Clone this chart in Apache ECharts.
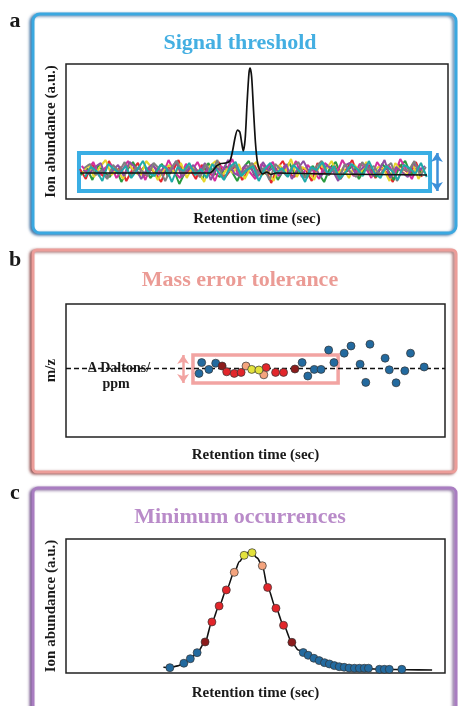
<!DOCTYPE html>
<html>
<head>
<meta charset="utf-8">
<script src="https://cdn.jsdelivr.net/npm/echarts/dist/echarts.min.js"></script>
<style>
  html, body { margin: 0; padding: 0; background: #ffffff; }
  #chart { width: 458px; height: 706px; }
</style>
</head>
<body>
<div id="chart"></div>
<script>
// ---- Panel a: background noise traces (one array per trace, scan by scan) ----
const noiseRed     = [ 4,-6, 9, 2,-3,12,-1, 6,-8, 3,  10,-4, 5, 0,-9, 7, 2,13,-2, 4,  -6, 8, 1,-3,11,-5, 3, 7,-7, 2,   9,-2, 5,-10,4,12, 0,-4, 6, 3,  -8,10, 1,-2, 7,-6, 4,13,-3, 2,   8,-5, 6, 0,-9, 9, 3,-1,11,-4];
const noiseGreen   = [-2, 5,-7, 8, 1,-4, 6,-9, 3,11,  -1, 7,-5, 2, 9,-3, 4,-11,1, 6,   3,-6,10, 0,-4, 7, 2,-8, 5,12,  -3, 6,-1, 8,-7, 3,10,-2, 4,-5,   7, 0,-9, 5,11,-3, 2, 8,-6, 4,   1,-4, 9, 3,-7, 6,12,-2, 5, 0];
const noiseMagenta = [ 7, 1,11,-3, 5, 9,-5, 3,12, 0,   6,-7, 8, 4,-2,13, 1,-5, 9, 2,  11,-1, 5,-8, 7, 3,14,-2, 6, 1,  -6, 9, 4,11,-3, 7, 0,12,-4, 8,   2,-6,10, 5,-1,13, 3,-3, 9, 6,  -5,11, 2, 8,-2,14, 4,-6, 7, 1];
const noiseYellow  = [ 0, 8,-4, 6,13,-2, 4,-6, 9, 1,  -3,12, 5,-7, 3, 8,-1,10,-5, 6,   2,-9, 7,12,-3, 4, 0, 9,-6, 5,  11,-2, 3,-8, 8, 1,14,-4, 6, 2,  -7, 9, 3,12,-1, 5,-5, 8, 0,11,  -3, 6, 4,-8,10, 2,-2, 9,-6, 5];
const noisePurple  = [ 3,-1, 6,10,-5, 2, 8,-3,11, 5,  -6, 4, 9,-2, 7, 1,12,-4, 3, 8,  -1,10,-7, 5, 2,13, 0,-3, 8, 4,  -5,11, 2, 6,-2, 9,-6, 4,12, 1,   5,-4, 8, 3,-8, 7,10,-1, 4, 9,  -3, 2,13,-5, 6, 1,-4,10, 3, 7];
const noiseGrey    = [ 5, 9,-2, 3,-6, 8, 1,11,-4, 6,   2,-3,10, 4,-8, 5,12,-1, 7, 3,  -4, 9, 0,13,-6, 2, 8,-2, 4,10,  -1, 5,-7, 9, 3,-3, 7,11,-5, 2,   6,12,-2, 4,-6, 9, 1,-4,11, 3,   7,-2, 5,10,-8, 4, 2,12,-3, 6];
const noiseTeal    = [-4, 6, 2,-8, 9, 4,-1, 7,-5, 3,  12, 0,-3, 8, 5,-9, 6, 2,10,-2,   4,-5, 9, 1,-7, 6,11,-3, 3, 7,  -8, 4,10,-1, 5,-4, 8, 2,-9, 6,   3,11,-2, 7,-6, 1, 9, 4,-3,12,   0,-5, 7, 2,-7, 8, 5,-1,10,-4];

// ---- Panel a: extracted ion chromatogram [retention time, abundance] ----
const xicTrace = [[3.7,0],[20,0],[37.6,0],[38.4,2],[39.4,7],[40.6,9.5],[41.8,10],[42.9,12],[43.6,22],[44.3,36],[44.9,43],[45.5,41],[46.0,30],[46.4,22],[46.9,34],[47.4,70],[47.9,100],[48.2,105],[48.6,96],[49.1,62],[49.6,30],[50.1,11],[50.7,3],[51.5,-1],[52.6,1],[53.6,-1.5],[55,0],[70,-1],[94.5,-2]];
// signal threshold window [time start, upper], [time end, lower]
const thresholdBox = [[3.4, 20], [95.3, -18]];
const thresholdArrowTime = 97.1;

// ---- Panel b: mass error of each scan [retention time, delta ppm] ----
const massBlue    = [[35.8,2.7],[35.1,-2.7],[37.7,-0.7],[39.5,2.4],[62.3,2.7],[63.8,-4.0],[65.5,-0.7],[67.3,-0.7],[69.3,9.0],[70.7,2.7],[73.4,7.4],[75.2,11.0],[77.6,1.9],[79.1,-7.2],[80.2,11.9],[84.2,4.9],[85.3,-0.9],[87.1,-7.4],[89.4,-1.4],[90.9,7.4],[94.5,0.5]];
const massDarkRed = [[41.2,1.0],[60.4,-0.5]];
const massRed     = [[42.4,-1.9],[44.4,-2.7],[46.2,-2.2],[52.8,0.2],[55.3,-2.2],[57.4,-2.2]];
const massPeach   = [[47.5,1.0],[52.2,-3.4]];
const massYellow  = [[49.0,-0.7],[50.9,-1.0]];
const toleranceBox = [[33.5, 6.5], [71.8, -7.5]];
const toleranceArrowTime = 30.9;

// ---- Panel c: chromatographic peak and its scans [retention time, abundance] ----
const peakCurve = [[25.7,3.1],[27.4,2.8],[29.5,4.3],[31.1,6.5],[32.8,10.3],[34.6,15.4],[36.7,24.4],[38.5,41.2],[40.4,54.6],[42.3,68.1],[44.4,82.9],[45.8,92.0],[47.0,97.2],[48.1,99.8],[49.1,99.4],[50.4,95.0],[51.8,88.4],[53.2,70.2],[55.4,52.7],[57.4,38.4],[59.6,24.1],[61.3,17.6],[62.6,15.5],[63.9,13.2],[66.8,8.7],[69.5,5.9],[72.1,3.6],[74.7,2.5],[78.7,2.0],[84.0,1.4],[90.0,1.0],[96.6,0.8]];
const scanBlue    = [[27.4,2.8],[31.1,6.5],[32.8,10.3],[34.6,15.4],[62.6,15.5],[63.9,13.2],[65.4,10.7],[66.8,8.7],[68.2,7.0],[69.5,5.9],[70.8,4.5],[72.1,3.6],[73.4,3.1],[74.7,2.5],[76.1,2.3],[77.4,2.3],[78.7,2.3],[79.8,2.3],[82.7,1.4],[84.0,1.4],[85.3,1.4],[88.6,1.4]];
const scanDarkRed = [[36.7,24.4],[59.6,24.1]];
const scanRed     = [[38.5,41.2],[40.4,54.6],[42.3,68.1],[53.2,70.2],[55.4,52.7],[57.4,38.4]];
const scanPeach   = [[44.4,82.9],[51.8,88.4]];
const scanYellow  = [[47.0,97.2],[49.1,99.4]];

const SERIF = '"Liberation Serif", "DejaVu Serif", serif';
const INK = '#1a1a1a';
const COLORS = {
  blue: '#236a9f', darkRed: '#8c1c1c', red: '#e2262b', peach: '#f4a47e', yellow: '#e3e23c'
};

const chart = echarts.init(document.getElementById('chart'), null, { renderer: 'canvas' });

const hiddenAxis = {
  axisLine: { show: false }, axisTick: { show: false },
  axisLabel: { show: false }, splitLine: { show: false }
};
const axisName = {
  nameLocation: 'middle',
  nameTextStyle: { fontFamily: SERIF, fontWeight: 'bold', fontSize: 15, color: INK }
};

function noiseSeries(values, color, shift) {
  return {
    type: 'line', xAxisIndex: 1, yAxisIndex: 1,
    data: values.map((v, i) => [i + shift, v]),
    showSymbol: false, symbol: 'none', silent: true,
    lineStyle: { color: color, width: 2 }, z: 2
  };
}
function dots(data, color, xi, yi) {
  return {
    type: 'scatter', xAxisIndex: xi, yAxisIndex: yi, data: data,
    symbolSize: 8, z: 6,
    itemStyle: { color: color, borderColor: '#333', borderWidth: 0.7, opacity: 1 }
  };
}
function doubleArrow(time, top, bottom, color) {
  return {
    silent: true, symbol: ['arrow', 'arrow'], symbolSize: [9, 9],
    lineStyle: { color: color, width: 2.5, type: 'solid' },
    label: { show: false },
    data: [[{ coord: [time, top] }, { coord: [time, bottom] }]]
  };
}

const noiseTraces = [
  [noiseRed, '#e5262c'], [noiseGreen, '#2a9a3e'], [noiseMagenta, '#d42f9e'],
  [noiseYellow, '#e6d62c'], [noisePurple, '#8d4ea3'], [noiseGrey, '#7f7f7f'], [noiseTeal, '#20a9a9']
];

const option = {
  backgroundColor: '#ffffff',
  animation: false,
  graphic: [
    // panel frames
    { type: 'rect', z: -10, shape: { x: 33, y: 14, width: 423, height: 219, r: 7 },
      style: { fill: '#ffffff', stroke: '#3aa8e0', lineWidth: 3, shadowBlur: 3, shadowOffsetX: -2, shadowOffsetY: 1, shadowColor: 'rgba(20,80,140,0.7)' } },
    { type: 'rect', z: -10, shape: { x: 33, y: 250, width: 423, height: 222, r: 4 },
      style: { fill: '#ffffff', stroke: '#ec9d99', lineWidth: 3, shadowBlur: 3, shadowOffsetX: -2, shadowOffsetY: 1, shadowColor: 'rgba(120,40,40,0.7)' } },
    { type: 'rect', z: -10, shape: { x: 33, y: 488, width: 423, height: 240, r: 5 },
      style: { fill: '#ffffff', stroke: '#a97dc1', lineWidth: 3, shadowBlur: 3, shadowOffsetX: -2, shadowOffsetY: 1, shadowColor: 'rgba(80,40,110,0.7)' } },
    // panel letters
    { type: 'text', style: { x: 15, y: 21, text: 'a', textAlign: 'center', textVerticalAlign: 'middle', font: 'bold 22px ' + SERIF, fill: INK } },
    { type: 'text', style: { x: 15, y: 260, text: 'b', textAlign: 'center', textVerticalAlign: 'middle', font: 'bold 22px ' + SERIF, fill: INK } },
    { type: 'text', style: { x: 15, y: 493, text: 'c', textAlign: 'center', textVerticalAlign: 'middle', font: 'bold 22px ' + SERIF, fill: INK } },
    // panel titles
    { type: 'text', style: { x: 240, y: 43, text: 'Signal threshold', textAlign: 'center', textVerticalAlign: 'middle', font: 'bold 22px ' + SERIF, fill: '#44afe2' } },
    { type: 'text', style: { x: 240, y: 280, text: 'Mass error tolerance', textAlign: 'center', textVerticalAlign: 'middle', font: 'bold 22px ' + SERIF, fill: '#eb9b95' } },
    { type: 'text', style: { x: 240, y: 517, text: 'Minimum occurrences', textAlign: 'center', textVerticalAlign: 'middle', font: 'bold 22px ' + SERIF, fill: '#b98bc9' } },
    // tolerance annotation on the dashed line
    { type: 'text', z: 10, style: { x: 119, y: 368, text: '\u0394 Daltons/', textAlign: 'center', textVerticalAlign: 'middle', font: 'bold 14px ' + SERIF, fill: INK } },
    { type: 'text', z: 10, style: { x: 116, y: 384, text: 'ppm', textAlign: 'center', textVerticalAlign: 'middle', font: 'bold 14px ' + SERIF, fill: INK } }
  ],
  grid: [
    { left: 66, top: 64, width: 382, height: 135, show: true, borderColor: '#222', borderWidth: 1.5, backgroundColor: 'transparent' },
    { left: 80, top: 64, width: 347, height: 135, show: false },
    { left: 66, top: 304, width: 379, height: 133, show: true, borderColor: '#222', borderWidth: 1.5, backgroundColor: 'transparent' },
    { left: 66, top: 539, width: 379, height: 134, show: true, borderColor: '#222', borderWidth: 1.5, backgroundColor: 'transparent' }
  ],
  xAxis: [
    Object.assign({ type: 'value', gridIndex: 0, min: 0, max: 100, name: 'Retention time (sec)', nameGap: 13 }, hiddenAxis, axisName),
    Object.assign({ type: 'value', gridIndex: 1, min: 0, max: 59.9 }, hiddenAxis),
    Object.assign({ type: 'value', gridIndex: 2, min: 0, max: 100, name: 'Retention time (sec)', nameGap: 11 }, hiddenAxis, axisName),
    Object.assign({ type: 'value', gridIndex: 3, min: 0, max: 100, name: 'Retention time (sec)', nameGap: 13 }, hiddenAxis, axisName)
  ],
  yAxis: [
    Object.assign({ type: 'value', gridIndex: 0, min: -26, max: 109, name: 'Ion abundance (a.u.)', nameGap: 7 }, hiddenAxis, axisName),
    Object.assign({ type: 'value', gridIndex: 1, min: -26, max: 109 }, hiddenAxis),
    Object.assign({ type: 'value', gridIndex: 2, min: -34.5, max: 32, name: 'm/z', nameGap: 7 }, hiddenAxis, axisName),
    Object.assign({ type: 'value', gridIndex: 3, min: -1.7, max: 110.9, name: 'Ion abundance (a.u.)', nameGap: 7 }, hiddenAxis, axisName)
  ],
  series: [
    ...noiseTraces.map((t, k) => noiseSeries(t[0], t[1], k / noiseTraces.length)),
    {
      type: 'line', xAxisIndex: 0, yAxisIndex: 0, data: xicTrace,
      showSymbol: false, symbol: 'none', smooth: 0.25, z: 5,
      lineStyle: { color: '#111', width: 1.7 },
      markArea: {
        silent: true,
        itemStyle: { color: 'rgba(0,0,0,0)', borderColor: '#3aaee4', borderWidth: 4 },
        data: [[{ coord: thresholdBox[0] }, { coord: thresholdBox[1] }]]
      },
      markLine: doubleArrow(thresholdArrowTime, thresholdBox[0][1], thresholdBox[1][1], '#3d8fd8')
    },
    {
      type: 'scatter', xAxisIndex: 2, yAxisIndex: 2, data: [], z: 3,
      markLine: {
        silent: true, symbol: ['none', 'none'],
        lineStyle: { color: '#111', width: 1.3, type: [5, 3] },
        label: { show: false },
        data: [{ yAxis: 0 }]
      },
      markArea: {
        silent: true,
        itemStyle: { color: 'rgba(0,0,0,0)', borderColor: '#f2a4a2', borderWidth: 3.5 },
        data: [[{ coord: toleranceBox[0] }, { coord: toleranceBox[1] }]]
      }
    },
    {
      type: 'scatter', xAxisIndex: 2, yAxisIndex: 2, data: [], z: 3,
      markLine: doubleArrow(toleranceArrowTime, toleranceBox[0][1], toleranceBox[1][1], '#f2a4a2')
    },
    dots(massBlue, COLORS.blue, 2, 2),
    dots(massDarkRed, COLORS.darkRed, 2, 2),
    dots(massRed, COLORS.red, 2, 2),
    dots(massPeach, COLORS.peach, 2, 2),
    dots(massYellow, COLORS.yellow, 2, 2),
    {
      type: 'line', xAxisIndex: 3, yAxisIndex: 3, data: peakCurve,
      showSymbol: false, symbol: 'none', smooth: 0.3, smoothMonotone: 'x', z: 4,
      lineStyle: { color: '#111', width: 1.6 }
    },
    dots(scanBlue, COLORS.blue, 3, 3),
    dots(scanDarkRed, COLORS.darkRed, 3, 3),
    dots(scanRed, COLORS.red, 3, 3),
    dots(scanPeach, COLORS.peach, 3, 3),
    dots(scanYellow, COLORS.yellow, 3, 3)
  ]
};

chart.setOption(option);
</script>
</body>
</html>
